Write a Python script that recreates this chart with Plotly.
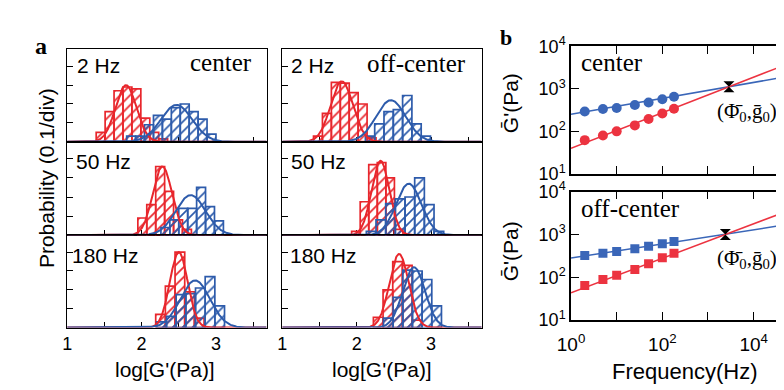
import numpy as np
import plotly.graph_objects as go

FIG_W, FIG_H = 784, 390
RED = "#e8262c"
BLUE = "#2d5bab"
RED_B = "#ec3340"
BLUE_B = "#3a66b8"
SANS = "Liberation Sans, Arial, sans-serif"
SERIF = "Liberation Serif, Times New Roman, serif"

# ---------------- panel a: histograms (bin centres, probability per bin) ----------------
c2_red_x = [1.45, 1.57, 1.69, 1.81, 1.93, 2.05, 2.17, 2.29]
c2_red_p = [0.05, 0.16, 0.27, 0.29, 0.28, 0.125, 0.05, 0.015]
c2_blue_x = [1.86, 1.98, 2.10, 2.22, 2.34, 2.46, 2.58, 2.70, 2.82, 2.94]
c2_blue_p = [0.03, 0.03, 0.09, 0.14, 0.12, 0.18, 0.20, 0.16, 0.12, 0.04]
c50_red_x = [2.01, 2.13, 2.25, 2.37, 2.49, 2.61]
c50_red_p = [0.09, 0.16, 0.36, 0.23, 0.08, 0.03]
c50_blue_x = [2.32, 2.44, 2.56, 2.68, 2.80, 2.92, 3.04]
c50_blue_p = [0.04, 0.08, 0.14, 0.14, 0.25, 0.15, 0.075]
c180_red_x = [2.255, 2.385, 2.515, 2.645, 2.775]
c180_red_p = [0.07, 0.22, 0.40, 0.19, 0.05]
c180_blue_x = [2.27, 2.40, 2.53, 2.66, 2.79, 2.92, 3.05]
c180_blue_p = [0.03, 0.06, 0.175, 0.18, 0.21, 0.27, 0.115]
o2_red_x = [1.48, 1.60, 1.72, 1.84, 1.96, 2.08, 2.20]
o2_red_p = [0.03, 0.15, 0.315, 0.31, 0.26, 0.20, 0.02]
o2_blue_x = [2.18, 2.305, 2.43, 2.555, 2.68, 2.805, 2.93]
o2_blue_p = [0.03, 0.095, 0.16, 0.17, 0.245, 0.095, 0.03]
o50_red_x = [1.99, 2.105, 2.22, 2.335, 2.45, 2.565]
o50_red_p = [0.02, 0.175, 0.37, 0.38, 0.30, 0.03]
o50_blue_x = [2.195, 2.325, 2.455, 2.585, 2.715, 2.845, 2.975, 3.105]
o50_blue_p = [0.02, 0.08, 0.165, 0.19, 0.20, 0.30, 0.16, 0.02]
o180_red_x = [2.29, 2.42, 2.55, 2.68, 2.81]
o180_red_p = [0.055, 0.20, 0.35, 0.33, 0.04]
o180_blue_x = [2.425, 2.555, 2.685, 2.815, 2.945, 3.075]
o180_blue_p = [0.05, 0.16, 0.305, 0.30, 0.255, 0.115]

red_bin_w = [0.12, 0.12, 0.13, 0.12, 0.115, 0.13]
blue_bin_w = [0.12, 0.12, 0.13, 0.125, 0.13, 0.13]

# Gaussian fits: (mean, sigma, peak probability)
red_fit = [(1.79, 0.14, 0.30), (2.28, 0.13, 0.36), (2.50, 0.12, 0.40),
           (1.80, 0.15, 0.32), (2.32, 0.12, 0.39), (2.57, 0.13, 0.39)]
blue_fit = [(2.47, 0.21, 0.195), (2.66, 0.20, 0.21), (2.72, 0.20, 0.25),
            (2.46, 0.20, 0.22), (2.70, 0.17, 0.27), (2.77, 0.15, 0.32)]

freq_labels = ["2 Hz", "50 Hz", "180 Hz"]
a_xticks = [1, 1.5, 2, 2.5, 3, 3.5]
a_xticktext = ["1", "", "2", "", "3", ""]
a_yticks = [0.1, 0.2, 0.3, 0.4]

# ---------------- panel b: mean modulus vs frequency ----------------
freq = [2, 5, 10, 25, 50, 100, 180]
g_center_blue = [293, 337, 354, 417, 479, 570, 655]
g_center_red = [62, 80, 100, 138, 195, 264, 341]
g_off_blue = [324, 365, 398, 465, 533, 608, 689]
g_off_red = [64, 89, 112, 153, 208, 288, 365]
# power-law fits: log10(G) = intercept + slope * log10(f)
fit_center_blue = [2.40, 0.188]
fit_center_red = [1.60, 0.419]
fit_off_blue = [2.45, 0.165]
fit_off_red = [1.638, 0.403]
cross_center = [2880, 1120]
cross_off = [2400, 1000]
b_xticks = [1, 10, 100, 1000, 10000]
b_xticktext = ["10<sup>0</sup>", "", "10<sup>2</sup>", "", "10<sup>4</sup>"]
b_yticks = [10, 100, 1000, 10000]
b_yticktext = ["10<sup>1</sup>", "10<sup>2</sup>", "10<sup>3</sup>", "10<sup>4</sup>"]

# ---------------- layout helpers ----------------
def fx(px):
    return px / FIG_W


def fy(py):
    return 1 - py / FIG_H


COL_X = [(46, 249), (265, 468)]
ROW_Y = [(31, 129), (129, 228), (228, 326)]
A_XRANGE = [1.0, 3.68]
A_YRANGE = [0, 0.49]
B_XRANGE = [0, 4.84]
B_YRANGE = [1, 4]

fig = go.Figure()
layout = {}

hists = [
    (c2_red_x, c2_red_p, c2_blue_x, c2_blue_p),
    (c50_red_x, c50_red_p, c50_blue_x, c50_blue_p),
    (c180_red_x, c180_red_p, c180_blue_x, c180_blue_p),
    (o2_red_x, o2_red_p, o2_blue_x, o2_blue_p),
    (o50_red_x, o50_red_p, o50_blue_x, o50_blue_p),
    (o180_red_x, o180_red_p, o180_blue_x, o180_blue_p),
]

xs = np.linspace(A_XRANGE[0], A_XRANGE[1], 500)


def akey(letter, n):
    return f"{letter}axis" if n == 1 else f"{letter}axis{n}"


for i, (rx, rp, bx, bp) in enumerate(hists):
    n = i + 1
    col, row = divmod(i, 3)
    xa, ya = f"x{n}", f"y{n}"
    for cx, cp, w, color in [(rx, rp, red_bin_w[i], RED), (bx, bp, blue_bin_w[i], BLUE)]:
        fig.add_trace(go.Bar(
            x=cx, y=cp, width=w, xaxis=xa, yaxis=ya,
            marker=dict(color=color, line=dict(color=color, width=1.7),
                        pattern=dict(shape="/", fgcolor=color, bgcolor="rgba(0,0,0,0)",
                                     size=7, solidity=0.24, fillmode="replace")),
            showlegend=False, hoverinfo="skip"))
    for (mu, sd, pk), color in [(red_fit[i], RED), (blue_fit[i], BLUE)]:
        fig.add_trace(go.Scatter(
            x=xs, y=pk * np.exp(-(xs - mu) ** 2 / (2 * sd ** 2)),
            mode="lines", line=dict(color=color, width=2),
            xaxis=xa, yaxis=ya, showlegend=False, hoverinfo="skip"))
    x0, x1 = COL_X[col]
    y0, y1 = ROW_Y[row]
    layout[akey("x", n)] = dict(
        domain=[fx(x0), fx(x1)], range=A_XRANGE, anchor=ya,
        showline=True, mirror=True, linecolor="black", linewidth=1.3,
        ticks="inside", ticklen=5, tickcolor="black", tickvals=a_xticks,
        ticktext=a_xticktext, showticklabels=(row == 2),
        tickfont=dict(family=SANS, size=18, color="black"),
        showgrid=False, zeroline=False, layer="below traces")
    layout[akey("y", n)] = dict(
        domain=[fy(y1), fy(y0)], range=A_YRANGE, anchor=xa,
        showline=True, mirror=True, linecolor="black", linewidth=1.3,
        ticks="inside", ticklen=6, tickcolor="black", tickvals=a_yticks,
        showticklabels=False, showgrid=False, zeroline=False, layer="below traces")

# ---------------- panel b ----------------
B_ROWS = [(28, 163), (182, 318)]
b_sets = [
    (g_center_blue, g_center_red, fit_center_blue, fit_center_red, cross_center, "circle", 10),
    (g_off_blue, g_off_red, fit_off_blue, fit_off_red, cross_off, "square", 9),
]
f_end = np.array([10 ** B_XRANGE[0], 10 ** B_XRANGE[1]])
for j, (gb, gr, fb, fr, cr, sym, msz) in enumerate(b_sets):
    n = 7 + j
    xa, ya = f"x{n}", f"y{n}"
    for (a, b), color in [(fb, BLUE_B), (fr, RED_B)]:
        fig.add_trace(go.Scatter(
            x=f_end, y=10 ** (a + b * np.log10(f_end)), mode="lines",
            line=dict(color=color, width=1.5), xaxis=xa, yaxis=ya,
            showlegend=False, hoverinfo="skip"))
    for g, color in [(gb, BLUE_B), (gr, RED_B)]:
        fig.add_trace(go.Scatter(
            x=freq, y=g, mode="markers",
            marker=dict(symbol=sym, size=msz, color=color),
            xaxis=xa, yaxis=ya, showlegend=False, hoverinfo="skip"))
    fig.add_trace(go.Scatter(
        x=[cr[0]], y=[cr[1]], mode="markers",
        marker=dict(symbol="hourglass", size=11, color="black"),
        xaxis=xa, yaxis=ya, showlegend=False, hoverinfo="skip"))
    y0, y1 = B_ROWS[j]
    layout[akey("x", n)] = dict(
        type="log", domain=[fx(559), 1.0], range=B_XRANGE, anchor=ya,
        showline=True, mirror="ticks", linecolor="black", linewidth=1.5,
        ticks="inside", ticklen=8, tickcolor="black", tickvals=b_xticks,
        ticktext=b_xticktext, showticklabels=(j == 1), ticklabelstandoff=6,
        tickfont=dict(family=SANS, size=19, color="black"),
        showgrid=False, zeroline=False)
    layout[akey("y", n)] = dict(
        type="log", domain=[fy(y1), fy(y0)], range=B_YRANGE, anchor=xa,
        showline=True, mirror=False, linecolor="black", linewidth=1.5,
        ticks="inside", ticklen=8, tickcolor="black", tickvals=b_yticks,
        ticktext=b_yticktext, tickfont=dict(family=SANS, size=18, color="black"),
        showgrid=False, zeroline=False)

# ---------------- annotations ----------------
ann = []


def add(text, x, y, size, family=SANS, xanchor="center", yanchor="middle", angle=0, color="black"):
    ann.append(dict(text=text, x=fx(x), y=fy(y), xref="paper", yref="paper",
                    showarrow=False, xanchor=xanchor, yanchor=yanchor, textangle=angle,
                    font=dict(family=family, size=size, color=color)))


add("<b>a</b>", 19, 28, 24, SERIF)
add("<b>b</b>", 493, 19, 22, SERIF)
add("Probability (0.1/div)", 25, 168, 21, angle=-90)
add("log[G'(Pa)]", 146, 370, 21)
add("log[G'(Pa)]", 367, 370, 21)
add("Frequency(Hz)", 675, 373, 22)
add("Ḡ'(Pa)", 497, 88, 21, angle=-90)
add("Ḡ'(Pa)", 497, 245, 21, angle=-90)
lab_x = [(54, 53, 49), (272, 272, 271)]
lab_y = [48, 150, 250]
for c in range(2):
    for r in range(3):
        add(freq_labels[r], lab_x[c][r], lab_y[r], 21, xanchor="left")
add("center", 236, 45, 25, SERIF, xanchor="right")
add("off-center", 454, 46, 25, SERIF, xanchor="right")
add("center", 567, 45, 25, SERIF, xanchor="left")
add("off-center", 567, 200, 25, SERIF, xanchor="left")
add("(Φ\u0304<sub>0</sub>,\u1e21<sub>0</sub>)", 706, 97, 21, SERIF, xanchor="left")
add("(Φ\u0304<sub>0</sub>,\u1e21<sub>0</sub>)", 706, 253, 21, SERIF, xanchor="left")

fig.update_layout(
    width=FIG_W, height=FIG_H, margin=dict(l=0, r=0, t=0, b=0, pad=0),
    paper_bgcolor="white", plot_bgcolor="white", barmode="overlay",
    font=dict(family=SANS, color="black"), annotations=ann, **layout)

fig.write_html("out.html")
